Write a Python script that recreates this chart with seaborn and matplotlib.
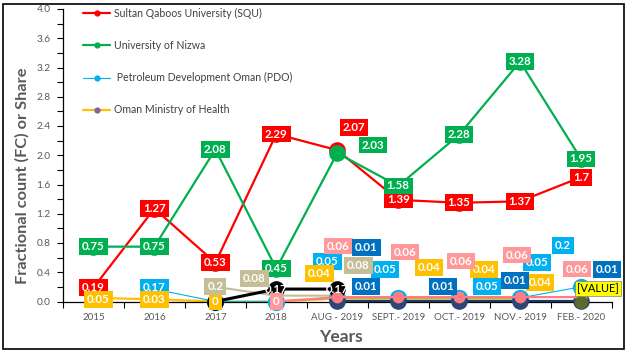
import numpy as np
import pandas as pd
import matplotlib
matplotlib.use("Agg")
import matplotlib.pyplot as plt
from matplotlib.lines import Line2D
from matplotlib.patches import Rectangle
from matplotlib.ticker import MultipleLocator, FixedLocator
import seaborn as sns

# ---------------- data ----------------
categories = ["2015", "2016", "2017", "2018", "AUG - 2019", "SEPT.- 2019",
              "OCT.- 2019", "NOV.- 2019", "FEB.- 2020"]
nan = np.nan
squ = [0.19, 1.27, 0.53, 2.29, 2.07, 1.39, 1.35, 1.37, 1.7]
nizwa = [0.75, 0.75, 2.08, 0.45, 2.03, 1.58, 2.28, 3.28, 1.95]
pdo = [nan, 0.17, 0, 0, 0.05, 0.05, 0.05, 0.05, 0.2]
moh = [0.05, 0.03, 0, 0, 0.04, 0.04, 0.04, 0.04, nan]
other_black = [nan, nan, 0, 0.17, 0.17, nan, nan, nan, nan]
other_tan = [nan, nan, 0.2, 0.08, 0.08, nan, nan, nan, nan]
other_pink = [nan, nan, nan, 0, 0.06, 0.06, 0.06, 0.06, 0.06]
other_navy = [nan, nan, nan, nan, 0.01, 0.01, 0.01, 0.01, 0.01]
other_olive = [nan, nan, nan, nan, nan, nan, nan, nan, 0]
legend_labels = ["Sultan Qaboos University (SQU)", "University of Nizwa",
                 " Petroleum Development Oman (PDO)", "Oman Ministry of Health"]

# ---------------- style ----------------
sns.set_theme(style="white")
plt.rcParams["font.family"] = ["Lato", "DejaVu Sans"]
GRAY = "#595959"

fig = plt.figure(figsize=(6.27, 3.53), dpi=100)
W, H = 627, 353
ax = fig.add_axes([63 / W, (H - 301.5) / H, (611.5 - 63) / W, (301.5 - 9) / H])
fig.add_artist(Rectangle((2.5 / W, 4 / H), 621 / W, 345 / H, transform=fig.transFigure,
                         fill=False, ec="black", lw=1.2))

x = np.arange(len(categories))

# series: values, line colour, line width, marker size, marker colour, zorder
series = [
    (squ, "#FF0000", 1.6, 12, "#FF0000", 2),
    (nizwa, "#00B050", 1.6, 12, "#00B050", 2.1),
    (moh, "#FFC000", 1.6, 0, "#FFC000", 2.5),
    (other_tan, "#C4BD97", 1.5, 0, "#C4BD97", 2.6),
    (pdo, "#00B0F0", 0.8, 12.5, "#00B0F0", 3),
    (other_black, "#000000", 2.2, 12, "#000000", 4),
    (other_navy, "#1F3864", 1.6, 12, "#2E4676", 5),
    (other_pink, "#FF7C80", 1.6, 8.5, "#FF7C80", 6),
    (other_olive, "#5B6B2E", 1.5, 9.5, "#5B6B2E", 7),
]
for vals, col, lw, ms, mcol, z in series:
    df = pd.DataFrame({"x": x, "y": vals}).dropna()
    kw = dict(marker="o", markersize=ms, markerfacecolor=mcol, markeredgewidth=0) if ms else {}
    sns.lineplot(data=df, x="x", y="y", ax=ax, color=col, linewidth=lw, estimator=None,
                 sort=False, legend=False, zorder=z, clip_on=False, **kw)

# ---------------- data labels ----------------
Z = None
labels = [
    (squ, "#FF0000", [(0, 0), (0, 0), (0, 0), (0, 0), (17, 23), (0, 0), (0, 0), (0, 0), (0, 0)]),
    (nizwa, "#00B050", [(0, 0), (0, 0), (0, 0), (0, 0), (36, 8), (0, 0), (0, 0), (0, 0), (0, 0)]),
    (pdo, "#00B0F0", [Z, (0, 2), Z, Z, (-10, 36), (-13, 28), (28, 11), (17, 35), (-18, 41)]),
    (moh, "#FFC000", [(5, -2), (0, 0), (0, 0), Z, (-18, 25), (31, 31), (25, 29), (20, 16), Z]),
    (other_black, None, [Z, Z, Z, (0, 0), (0, 0), Z, Z, Z, Z]),
    (other_tan, "#C4BD97", [Z, Z, (0, 0), (-22, 17), (21, 30), Z, Z, Z, Z]),
    (other_pink, "#FF9999", [Z, Z, Z, (0, 0), (1, 51), (7, 45), (2, 36), (-3, 42), (-4, 28)]),
    (other_navy, "#0070C0", [Z, Z, Z, Z, (29, 53), (-32, 14), (-16, 14), (-5, 20), (26, 31)]),
]
zl = 20
for vals, fc, offs in labels:
    for i, (v, off) in enumerate(zip(vals, offs)):
        if off is None or np.isnan(v):
            continue
        bbox = dict(boxstyle="square,pad=0.25", fc=fc, ec="none") if fc else None
        ax.annotate(f"{v:g}", xy=(i, v), xytext=off, textcoords="offset pixels",
                    ha="center", va="center", color="white", fontsize=8.3, fontweight="bold",
                    bbox=bbox, zorder=zl, annotation_clip=False)
    zl += 1
ax.annotate("[VALUE]", xy=(8, other_olive[8]), xytext=(17, 13), textcoords="offset pixels",
            ha="center", va="center", color="black", fontsize=8,
            bbox=dict(boxstyle="square,pad=0.2", fc="#FFFF00", ec="#7F7F7F", lw=0.5),
            zorder=zl + 1, annotation_clip=False)

# ---------------- axes ----------------
ax.set_xlim(-0.5, 8.5)
ax.set_ylim(0, 4)
ax.set_xticks(x)
ax.set_xticklabels(categories)
ax.xaxis.set_minor_locator(FixedLocator(np.arange(-0.5, 9, 1)))
ax.yaxis.set_major_locator(MultipleLocator(0.4))
ax.yaxis.set_minor_locator(MultipleLocator(0.2))
ax.set_yticklabels([f"{v:.1f}" for v in ax.get_yticks()])
ax.tick_params(axis="x", which="major", length=0, pad=8, labelsize=7, labelcolor=GRAY)
ax.tick_params(axis="x", which="minor", length=4, width=0.8, color="black", direction="out", bottom=True)
ax.tick_params(axis="y", which="major", length=4, width=0.8, color="black", direction="out",
               left=True, pad=5, labelsize=7.3, labelcolor=GRAY)
ax.tick_params(axis="y", which="minor", length=4, width=0.8, color="black", direction="out", left=True)
for s in ["top", "right"]:
    ax.spines[s].set_visible(False)
for s in ["left", "bottom"]:
    ax.spines[s].set_color("black")
    ax.spines[s].set_linewidth(0.9)
ax.set_xlabel("")
ax.set_ylabel("")
ax.set_facecolor("white")

fig.text(22 / W, 1 - 176 / H, "Fractional count (FC) or Share", rotation=90, ha="center",
         va="center", fontsize=11.8, fontweight="bold", color=GRAY)
fig.text(341 / W, 1 - 337 / H, "Years", ha="center", va="center", fontsize=12.5,
         fontweight="bold", color=GRAY)

# ---------------- legend ----------------
handles = [
    Line2D([], [], color="#FF0000", lw=1.6, marker="o", ms=4.5, mfc="#FF0000", mew=0),
    Line2D([], [], color="#00B050", lw=1.6, marker="o", ms=4.5, mfc="#00B050", mew=0),
    Line2D([], [], color="#00B0F0", lw=0.8, marker="o", ms=4.5, mfc="#00B0F0", mew=0),
    Line2D([], [], color="#FFC000", lw=1.6, marker="o", ms=4.5, mfc="#8064A2", mew=0),
]
fig.legend(handles, legend_labels, loc="upper left", bbox_to_anchor=(83 / W, 1 - 8 / H),
           frameon=False, fontsize=7.6, labelcolor="#404040", handlelength=2.6,
           handletextpad=0.35, labelspacing=2.0, borderpad=0, borderaxespad=0)

fig.savefig("out.png", dpi=100, facecolor="white")
